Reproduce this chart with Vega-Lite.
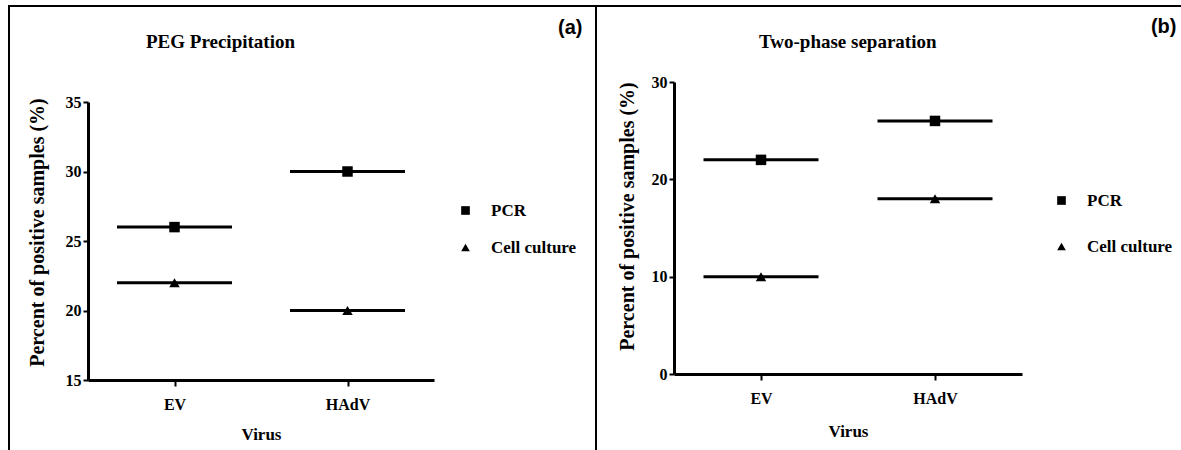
{
  "$schema": "https://vega.github.io/schema/vega-lite/v6.json",
  "padding": {"left": 8, "top": 5, "right": 0, "bottom": 0},
  "background": "white",
  "spacing": 0,
  "bounds": "flush",
  "resolve": {"scale": {"shape": "independent"}, "legend": {"shape": "independent"}},
  "config": {
    "view": {"stroke": "black", "strokeWidth": 2},
    "axis": {
      "grid": false,
      "domainColor": "black",
      "domainWidth": 3,
      "tickColor": "black",
      "tickWidth": 2,
      "labelFont": "Liberation Serif, Times New Roman, DejaVu Serif, serif",
      "labelFontWeight": "bold",
      "labelFontSize": 16,
      "labelColor": "black",
      "titleFont": "Liberation Serif, Times New Roman, DejaVu Serif, serif",
      "titleFontWeight": "bold",
      "titleFontSize": 17,
      "titleColor": "black"
    },
    "legend": {
      "labelFont": "Liberation Serif, Times New Roman, DejaVu Serif, serif",
      "labelFontWeight": "bold",
      "labelFontSize": 17,
      "labelColor": "black",
      "symbolSize": 75,
      "symbolStrokeWidth": 0,
      "symbolFillColor": "black",
      "labelOffset": 17,
      "padding": 0
    },
    "title": {
      "font": "Liberation Serif, Times New Roman, DejaVu Serif, serif",
      "fontWeight": "bold",
      "fontSize": 19,
      "color": "black"
    }
  },
  "hconcat": [
    {
      "width": 587,
      "height": 450,
      "title": {"text": "PEG Precipitation", "anchor": "start", "dx": 137, "offset": -46},
      "data": {
        "values": [
          {"virus": "EV", "method": "PCR", "value": 26},
          {"virus": "EV", "method": "Cell culture", "value": 22},
          {"virus": "HAdV", "method": "PCR", "value": 30},
          {"virus": "HAdV", "method": "Cell culture", "value": 20}
        ]
      },
      "resolve": {"axis": {"x": "independent"}},
      "encoding": {
        "y": {
          "field": "value",
          "type": "quantitative",
          "scale": {"domain": [15, 35], "range": [374, 96], "nice": false, "zero": false},
          "axis": {
            "values": [15, 20, 25, 30, 35],
            "orient": "left",
            "offset": -79,
            "title": "Percent of  positive samples (%)",
            "titleX": -51,
            "titleY": 226,
            "titleAngle": -90,
            "titleAlign": "center",
            "titleBaseline": "middle",
            "titleFontSize": 20,
            "tickSize": 5,
            "labelPadding": 2
          }
        }
      },
      "layer": [
        {
          "mark": {"type": "tick", "color": "black", "size": 115, "thickness": 3, "opacity": 1},
          "encoding": {
            "x": {
              "field": "virus",
              "type": "nominal",
              "sort": ["EV", "HAdV"],
              "scale": {"type": "point", "padding": 0.5, "range": [79, 425]},
              "axis": {
                "orient": "bottom",
                "offset": -76,
                "title": "Virus",
                "labelAngle": 0,
                "tickSize": 6,
                "labelPadding": 10,
                "titleY": 54,
                "titleBaseline": "middle"
              }
            }
          }
        },
        {
          "mark": {"type": "point", "filled": true, "color": "black", "size": 110, "opacity": 1},
          "encoding": {
            "x": {
              "field": "virus",
              "type": "nominal",
              "sort": ["EV", "HAdV"],
              "axis": {
                "orient": "top",
                "domain": false,
                "ticks": false,
                "labels": false,
                "title": "(a)",
                "titleX": 573,
                "titleY": 21,
                "titleAlign": "right",
                "titleBaseline": "middle",
                "titleFont": "Liberation Sans, Arial, sans-serif",
                "titleFontSize": 20
              }
            },
            "shape": {
              "field": "method",
              "type": "nominal",
              "scale": {"domain": ["PCR", "Cell culture"], "range": ["square", "triangle-up"]},
              "legend": {"orient": "none", "legendX": 448, "legendY": 196, "title": null, "rowPadding": 19}
            }
          }
        }
      ]
    },
    {
      "width": 590,
      "height": 450,
      "title": {"text": "Two-phase separation", "anchor": "start", "dx": 163, "offset": -46},
      "data": {
        "values": [
          {"virus": "EV", "method": "PCR", "value": 22},
          {"virus": "EV", "method": "Cell culture", "value": 10},
          {"virus": "HAdV", "method": "PCR", "value": 26},
          {"virus": "HAdV", "method": "Cell culture", "value": 18}
        ]
      },
      "resolve": {"axis": {"x": "independent"}},
      "encoding": {
        "y": {
          "field": "value",
          "type": "quantitative",
          "scale": {"domain": [0, 30], "range": [368, 76], "nice": false, "zero": false},
          "axis": {
            "values": [0, 10, 20, 30],
            "orient": "left",
            "offset": -78,
            "title": "Percent of  positive samples (%)",
            "titleX": -47,
            "titleY": 210,
            "titleAngle": -90,
            "titleAlign": "center",
            "titleBaseline": "middle",
            "titleFontSize": 20,
            "tickSize": 5,
            "labelPadding": 2
          }
        }
      },
      "layer": [
        {
          "mark": {"type": "tick", "color": "black", "size": 115, "thickness": 3, "opacity": 1},
          "encoding": {
            "x": {
              "field": "virus",
              "type": "nominal",
              "sort": ["EV", "HAdV"],
              "scale": {"type": "point", "padding": 0.5, "range": [78, 426]},
              "axis": {
                "orient": "bottom",
                "offset": -82,
                "title": "Virus",
                "labelAngle": 0,
                "tickSize": 6,
                "labelPadding": 10,
                "titleY": 57,
                "titleBaseline": "middle"
              }
            }
          }
        },
        {
          "mark": {"type": "point", "filled": true, "color": "black", "size": 110, "opacity": 1},
          "encoding": {
            "x": {
              "field": "virus",
              "type": "nominal",
              "sort": ["EV", "HAdV"],
              "axis": {
                "orient": "top",
                "domain": false,
                "ticks": false,
                "labels": false,
                "title": "(b)",
                "titleX": 580,
                "titleY": 20,
                "titleAlign": "right",
                "titleBaseline": "middle",
                "titleFont": "Liberation Sans, Arial, sans-serif",
                "titleFontSize": 20
              }
            },
            "shape": {
              "field": "method",
              "type": "nominal",
              "scale": {"domain": ["PCR", "Cell culture"], "range": ["square", "triangle-up"]},
              "legend": {"orient": "none", "legendX": 457, "legendY": 186, "title": null, "rowPadding": 28}
            }
          }
        }
      ]
    }
  ]
}
